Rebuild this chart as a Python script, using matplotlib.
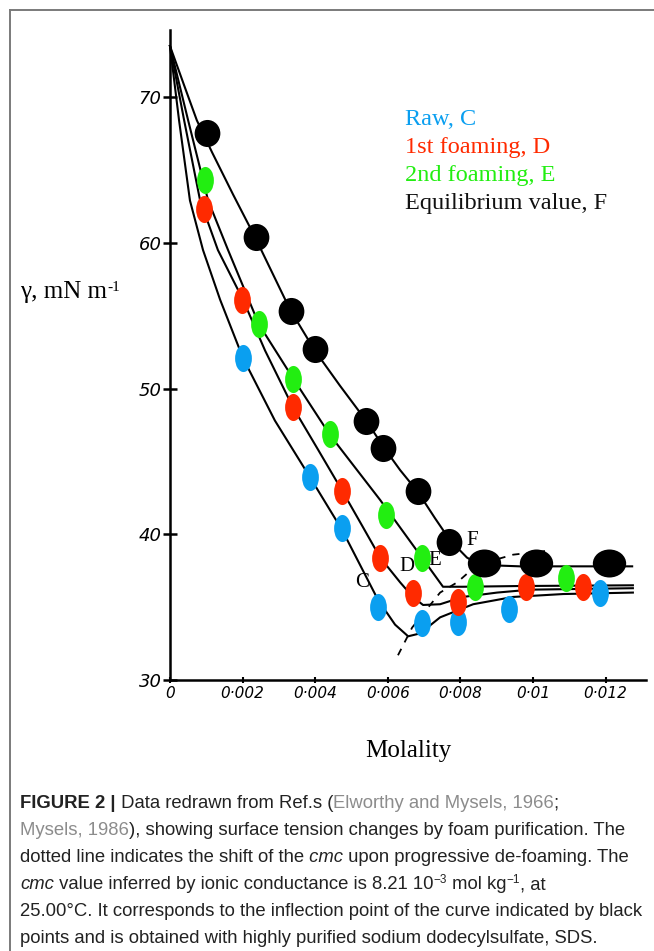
import numpy as np
import matplotlib.pyplot as plt
from matplotlib.path import Path
from matplotlib.lines import Line2D

# ---- drawn curves (molality, surface tension mN/m) ----
c_x = [0, 0.00025, 0.00055, 0.00091, 0.00138, 0.00201, 0.00289, 0.00386, 0.00474,
       0.00573, 0.00620, 0.00656, 0.00689, 0.00744, 0.00835, 0.00945, 0.01083, 0.01275]
c_y = [73.5, 68.4, 62.9, 59.5, 56.1, 52.1, 47.8, 43.9, 40.3,
       35.5, 33.8, 33.0, 33.2, 34.3, 35.2, 35.7, 35.9, 36.0]

d_x = [0, 0.00039, 0.00083, 0.00132, 0.00201, 0.00262, 0.00339, 0.00408, 0.00474, 0.00529,
       0.00579, 0.00634, 0.00669, 0.00697, 0.00744, 0.00807, 0.00901, 0.00992, 0.01275]
d_y = [73.5, 68.4, 62.9, 59.5, 56.1, 52.6, 48.7, 45.8, 43.0, 40.6,
       38.4, 36.7, 35.7, 35.15, 35.2, 35.7, 36.0, 36.2, 36.3]

e_x = [0, 0.00050, 0.00105, 0.00160, 0.00245, 0.00339, 0.00441, 0.00579, 0.00694,
       0.00752, 0.00807, 0.00964, 0.01275]
e_y = [73.5, 68.4, 62.9, 59.5, 54.4, 50.7, 46.8, 42.35, 38.4,
       36.4, 36.4, 36.45, 36.5]

f_x = [0, 0.00039, 0.00074, 0.00116, 0.00174, 0.00234, 0.00331, 0.00399, 0.00468, 0.00543,
       0.00592, 0.00634, 0.00683, 0.00730, 0.00771, 0.00818, 0.00854, 0.00964, 0.01273]
f_y = [73.5, 70.8, 68.4, 66.2, 63.3, 60.4, 55.4, 52.6, 50.2, 47.7,
       45.85, 44.4, 42.9, 41.1, 39.6, 38.4, 37.9, 37.8, 37.8]

cmc_x = [0.00628, 0.00667, 0.00744, 0.00791, 0.00846, 0.00945, 0.01033]
cmc_y = [31.7, 33.6, 36.0, 36.7, 37.9, 38.6, 38.85]

# ---- overlaid points ----
raw_x = [0.00201, 0.00386, 0.00474, 0.00573, 0.00694, 0.00793, 0.00934, 0.01185]
raw_y = [52.1, 43.9, 40.4, 35.0, 33.9, 34.0, 34.9, 36.0]

foam1_x = [0.00094, 0.00198, 0.00339, 0.00474, 0.00579, 0.00669, 0.00793, 0.00981, 0.01138]
foam1_y = [62.3, 56.1, 48.7, 43.0, 38.4, 36.0, 35.35, 36.4, 36.4]

foam2_x = [0.00096, 0.00245, 0.00339, 0.00441, 0.00595, 0.00694, 0.00840, 0.01091]
foam2_y = [64.3, 54.4, 50.65, 46.9, 41.3, 38.4, 36.4, 37.0]

eq_x = [0.00102, 0.00237, 0.00333, 0.00399, 0.00540, 0.00587, 0.00683, 0.00769]
eq_y = [67.5, 60.4, 55.3, 52.7, 47.8, 45.9, 43.0, 39.5]
eq_flat_x = [0.00865, 0.01008, 0.01209]
eq_flat_y = [38.0, 38.0, 38.0]

x_ticks = [0, 0.002, 0.004, 0.006, 0.008, 0.010, 0.012]
x_labels = ['0', '0·002', '0·004', '0·006', '0·008', '0·01', '0·012']
y_ticks = [30, 40, 50, 60, 70]

legend_items = ['Raw, C', '1st foaming, D', '2nd foaming, E', 'Equilibrium value, F']
legend_colors = ['#0a9ff0', '#ff2a00', '#22ee11', '#111111']

W, H = 654, 951
fig = plt.figure(figsize=(W / 100, H / 100), dpi=100)
renderer = fig.canvas.get_renderer()

ax = fig.add_axes([0.2488, 0.2696, 0.7439, 0.7127])
ax.patch.set_visible(False)
ax.set_xlim(-0.0002, 0.0132)
ax.set_ylim(29, 75.5)

for s in ['top', 'right']:
    ax.spines[s].set_visible(False)
ax.spines['left'].set_position(('data', 0))
ax.spines['bottom'].set_position(('data', 30))
ax.spines['left'].set_bounds(30, 74.6)
ax.spines['bottom'].set_bounds(0, 0.0131)
for s in ['left', 'bottom']:
    ax.spines[s].set_linewidth(1.8)

ax.set_xticks(x_ticks)
ax.set_xticklabels(x_labels, fontstyle='italic', fontsize=11)
ax.set_yticks(y_ticks)
ax.set_yticklabels([str(v) for v in y_ticks], fontstyle='italic', fontsize=13)
ax.tick_params(axis='x', direction='inout', length=5, width=1.5, pad=2)
ax.tick_params(axis='y', direction='inout', length=10, width=1.8, pad=1)

# curves
for cx, cy in [(c_x, c_y), (d_x, d_y), (e_x, e_y), (f_x, f_y)]:
    ax.plot(cx, cy, color='black', lw=1.5, zorder=2, solid_joinstyle='round')
ax.plot(cmc_x, cmc_y, color='black', lw=1.3, ls=(0, (4, 4)), zorder=2)

# curve letters
ax.text(0.00529, 36.7, 'C', family='Liberation Serif', fontsize=15, ha='center', va='center')
ax.text(0.00653, 37.8, 'D', family='Liberation Serif', fontsize=15, ha='center', va='center')
ax.text(0.00728, 38.2, 'E', family='Liberation Serif', fontsize=15, ha='center', va='center')
ax.text(0.00832, 39.6, 'F', family='Liberation Serif', fontsize=15, ha='center', va='center')

# markers
circ = Path.unit_circle()
tall = Path(circ.vertices * [0.62, 1.0], circ.codes)
round_ = Path(circ.vertices * [0.95, 1.0], circ.codes)
wide = Path(circ.vertices * [1.0, 0.84], circ.codes)

ax.plot(raw_x, raw_y, ls='none', marker=tall, ms=19.5, color=legend_colors[0], mec='none', zorder=3)
ax.plot(foam1_x, foam1_y, ls='none', marker=tall, ms=19.5, color=legend_colors[1], mec='none', zorder=4)
ax.plot(foam2_x, foam2_y, ls='none', marker=tall, ms=19.5, color=legend_colors[2], mec='none', zorder=4)
ax.plot(eq_x, eq_y, ls='none', marker=round_, ms=19.5, color='black', mec='none', zorder=5)
ax.plot(eq_flat_x, eq_flat_y, ls='none', marker=wide, ms=24, color='black', mec='none', zorder=5)

# legend text
serif = dict(family='Liberation Serif')
for i, (lab, col) in enumerate(zip(legend_items, legend_colors)):
    fig.text(405 / W, 1 - (125 + 28 * i) / H, lab, color=col, fontsize=17.5, va='baseline', **serif)


def put_line(x, y, segs):
    for text, kw, rise in segs:
        t = fig.text(x / W, 1 - (y - rise) / H, text, va='baseline', **kw)
        x = t.get_window_extent(renderer).x1


# axis titles
put_line(20, 298, [('γ, mN m', dict(fontsize=18, **serif), 0),
                   ('-1', dict(fontsize=11, **serif), 7)])
fig.text(408 / W, 1 - 757 / H, 'Molality', ha='center', va='baseline', fontsize=18, **serif)

# caption
base = dict(family='Liberation Sans', fontsize=13.3, color='#222222')
bold = dict(base, weight='bold')
grey = dict(base, color='#8c8c8c')
ital = dict(base, style='italic')
sup = dict(base, fontsize=8.5)

lines = [
    [('FIGURE 2 |', bold, 0), (' Data redrawn from Ref.s (', base, 0),
     ('Elworthy and Mysels, 1966', grey, 0), (';', base, 0)],
    [('Mysels, 1986', grey, 0), ('), showing surface tension changes by foam purification. The', base, 0)],
    [('dotted line indicates the shift of the', base, 0), (' cmc', ital, 0),
     (' upon progressive de-foaming. The', base, 0)],
    [('cmc', ital, 0), (' value inferred by ionic conductance is 8.21 10', base, 0), ('−3', sup, 6),
     (' mol kg', base, 0), ('−1', sup, 6), (', at', base, 0)],
    [('25.00°C. It corresponds to the inflection point of the curve indicated by black', base, 0)],
    [('points and is obtained with highly purified sodium dodecylsulfate, SDS.', base, 0)],
]
for i, segs in enumerate(lines):
    put_line(20, 808 + 27 * i, segs)

# outer frame (left and top edges)
fig.add_artist(Line2D([10 / W, 10 / W], [0, 1 - 10 / H], transform=fig.transFigure,
                      color='#7a7a7a', lw=1.4))
fig.add_artist(Line2D([10 / W, 1], [1 - 10 / H, 1 - 10 / H], transform=fig.transFigure,
                      color='#7a7a7a', lw=1.4))

fig.savefig('out.png', dpi=100)
